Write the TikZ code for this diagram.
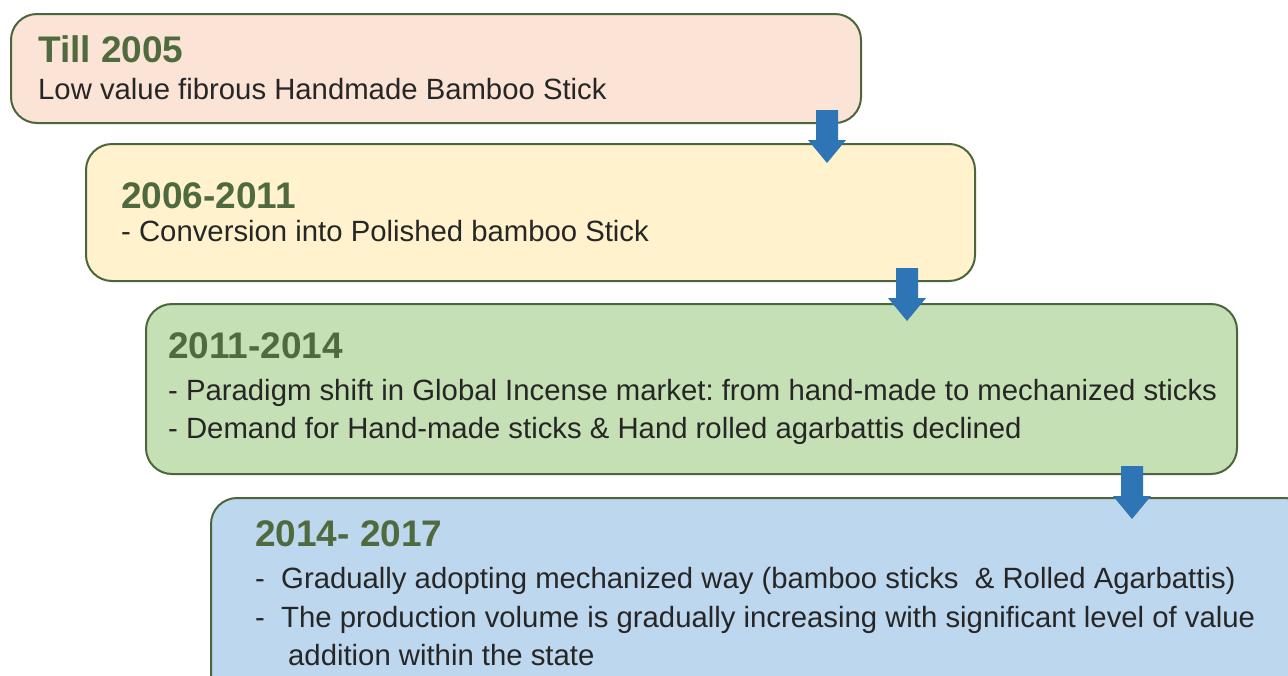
\documentclass[tikz,border=0pt]{standalone}
\usepackage{fontspec}
\setmainfont{Liberation Sans}
\frenchspacing
\definecolor{edgegreen}{HTML}{4B663A}
\definecolor{titlegreen}{HTML}{4F6A3E}
\definecolor{bodytext}{HTML}{262626}
\definecolor{peach}{HTML}{FBE3D6}
\definecolor{cream}{HTML}{FFF2CC}
\definecolor{lightgreen}{HTML}{C5E0B4}
\definecolor{lightblue}{HTML}{BDD7EE}
\definecolor{arrowblue}{HTML}{2E75B6}
\begin{document}
\begin{tikzpicture}[x=1pt,y=-1pt,
  box/.style={draw=edgegreen, line width=2pt, rounded corners=26pt, rectangle, anchor=north west, inner sep=0pt},
  title/.style={anchor=base west, inner sep=0pt, text=titlegreen, font=\fontsize{37}{44}\selectfont\bfseries},
  body/.style={anchor=base west, inner sep=0pt, text=bodytext, font=\fontsize{29.3}{35}\selectfont},
  darrow/.pic={\fill[arrowblue] (-11,0) -- (11,0) -- (11,30) -- (19,30) -- (0,53) -- (-19,30) -- (-11,30) -- cycle;}
]
\useasboundingbox (0,0) rectangle (1288,675);
\fill[white] (0,0) rectangle (1288,675);

\node[box, fill=peach, minimum width=850pt, minimum height=109pt] (b1) at (10,13) {};
\node[box, fill=cream, minimum width=889pt, minimum height=137pt] (b2) at (85,143) {};
\node[box, fill=lightgreen, minimum width=1091pt, minimum height=170pt] (b3) at (145,303) {};
\node[box, fill=lightblue, minimum width=1100pt, minimum height=210pt] (b4) at (210,497) {};

\node[title] (t1) at (38,62) {Till 2005};
\node[body] (l1) at (38,99) {Low value fibrous Handmade Bamboo Stick};

\node[title] (t2) at (121,208) {2006-2011};
\node[body] (l2) at (121,241) {- Conversion into Polished bamboo Stick};

\node[title] (t3) at (168,358) {2011-2014};
\node[body] (l3a) at (168,400) {- Paradigm shift in Global Incense market: from hand-made to mechanized sticks};
\node[body] (l3b) at (168,438) {- Demand for Hand-made sticks \& Hand rolled agarbattis declined};

\node[title] (t4) at (255,546) {2014- 2017};
\node[body] (l4a) at (255,588) {-\ \ Gradually adopting mechanized way (bamboo sticks\ \ \& Rolled Agarbattis)};
\node[body] (l4b) at (255,627) {-\ \ The production volume is gradually increasing with significant level of value};
\node[body] (l4c) at (288,665) {addition within the state};

\coordinate (a1) at (827,110);
\coordinate (a2) at (907,268);
\coordinate (a3) at (1132,466);
\pic at (a1) {darrow};
\pic at (a2) {darrow};
\pic at (a3) {darrow};
\end{tikzpicture}
\end{document}
